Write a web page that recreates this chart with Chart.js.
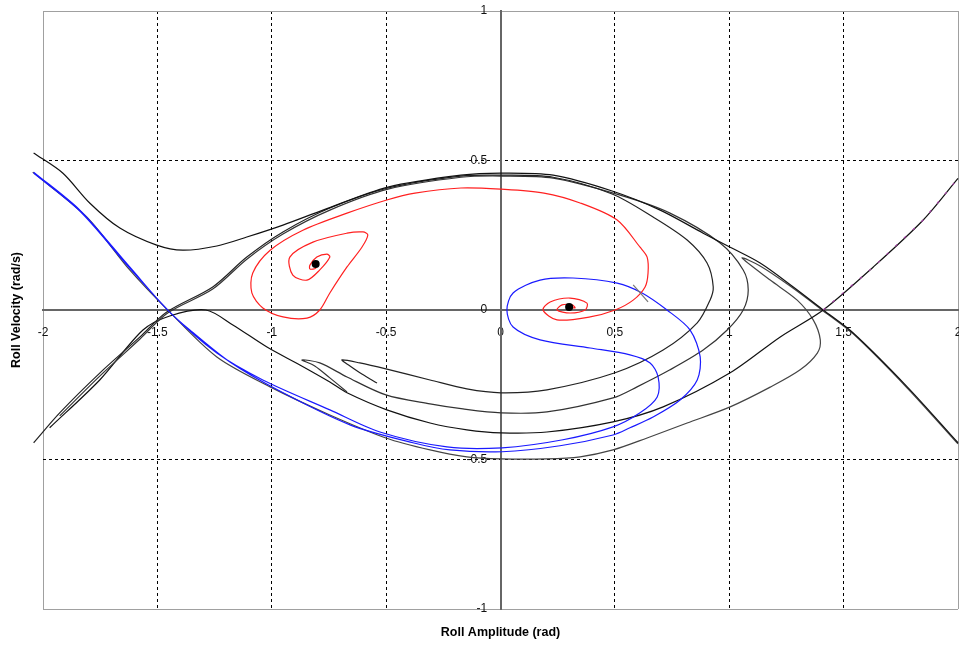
<!DOCTYPE html>
<html>
<head>
<meta charset="utf-8">
<title>Roll phase portrait</title>
<script src="https://cdn.jsdelivr.net/npm/chart.js@4/dist/chart.umd.min.js"></script>
<style>
  html, body { margin: 0; padding: 0; background: #fff; }
  #wrap { width: 959px; height: 646px; }
</style>
</head>
<body>
<div id="wrap"><canvas id="c" width="959" height="646"></canvas></div>
<script>
// Axis ticks and titles
const xTicks = [-2, -1.5, -1, -0.5, 0, 0.5, 1, 1.5, 2];
const yTicks = [-1, -0.5, 0, 0.5, 1];
const xTitle = 'Roll Amplitude (rad)';
const yTitle = 'Roll Velocity (rad/s)';

// Equilibrium points (foci)
const foci = [[-0.808, 0.154], [0.300, 0.010]];

// Trajectories, [roll amplitude, roll velocity]
const outerArc = [[-2.041,0.525],[-1.914,0.458],[-1.796,0.358],[-1.664,0.274],[-1.503,0.217],[-1.389,0.200],[-1.240,0.214],[-1.109,0.244],[-0.951,0.284],[-0.776,0.334],[-0.492,0.411],[-0.173,0.451],[0.002,0.458],[0.230,0.451],[0.488,0.398],[0.698,0.334],[0.886,0.257],[1.004,0.210],[1.135,0.157],[1.280,0.077],[1.411,0],[1.542,-0.077],[1.778,-0.257],[2.0,-0.444]];

const innerLoopA = [[-2.041,-0.444],[-1.927,-0.344],[-1.752,-0.211],[-1.576,-0.090],[-1.459,-0.007],[-1.258,0.077],[-1.109,0.177],[-0.951,0.261],[-0.746,0.341],[-0.492,0.408],[-0.173,0.448],[0.002,0.451],[0.230,0.444],[0.488,0.388],[0.667,0.311],[0.816,0.234],[0.903,0.157],[0.930,0.077],[0.916,0.033],[0.860,-0.043],[0.711,-0.134],[0.501,-0.210],[0.203,-0.267],[0.002,-0.277],[-0.147,-0.264],[-0.308,-0.234],[-0.501,-0.197],[-0.615,-0.177],[-0.693,-0.167],[-0.658,-0.187],[-0.606,-0.214],[-0.540,-0.244]];

const innerLoopB = [[-1.927,-0.354],[-1.752,-0.221],[-1.576,-0.097],[-1.455,-0.010],[-1.258,0.070],[-1.109,0.170],[-0.951,0.254],[-0.746,0.334],[-0.492,0.404],[-0.173,0.444],[0.002,0.448],[0.230,0.441],[0.523,0.384],[0.741,0.324],[0.960,0.224],[1.061,0.134],[1.083,0.067],[1.061,0],[0.991,-0.067],[0.886,-0.134],[0.741,-0.200],[0.597,-0.257],[0.492,-0.294],[0.203,-0.341],[0.002,-0.344],[-0.164,-0.331],[-0.308,-0.314],[-0.501,-0.284],[-0.671,-0.224],[-0.790,-0.177],[-0.868,-0.167],[-0.812,-0.187],[-0.746,-0.227],[-0.671,-0.274]];

const lowerPass = [[-1.971,-0.394],[-1.752,-0.234],[-1.563,-0.067],[-1.446,-0.020],[-1.288,0],[-1.170,-0.050],[-1.021,-0.124],[-0.877,-0.184],[-0.746,-0.241],[-0.671,-0.277],[-0.497,-0.334],[-0.308,-0.378],[-0.147,-0.401],[0.002,-0.411],[0.203,-0.408],[0.492,-0.374],[0.711,-0.324],[1.004,-0.210],[1.223,-0.090],[1.411,0],[1.630,0.144],[1.848,0.301],[2.0,0.440]];

const bottomTongue = [[-2.045,0.461],[-1.809,0.311],[-1.621,0.134],[-1.446,-0.007],[-1.240,-0.157],[-1.007,-0.257],[-0.746,-0.351],[-0.501,-0.428],[-0.308,-0.468],[-0.147,-0.491],[0.002,-0.498],[0.203,-0.498],[0.348,-0.491],[0.492,-0.468],[0.641,-0.428],[0.816,-0.378],[1.004,-0.324],[1.179,-0.258],[1.310,-0.200],[1.385,-0.144],[1.398,-0.100],[1.367,-0.033],[1.297,0.033],[1.179,0.100],[1.056,0.174],[1.135,0.147],[1.266,0.080],[1.411,-0.003],[1.542,-0.080],[1.778,-0.261],[2.0,-0.448]];

const bluePath = [[-2.041,0.461],[-1.839,0.334],[-1.621,0.144],[-1.446,-0.007],[-1.240,-0.144],[-1.039,-0.234],[-0.746,-0.334],[-0.527,-0.408],[-0.234,-0.458],[0.007,-0.461],[0.273,-0.434],[0.492,-0.391],[0.610,-0.344],[0.685,-0.291],[0.689,-0.224],[0.654,-0.177],[0.566,-0.150],[0.392,-0.127],[0.173,-0.100],[0.055,-0.057],[0.028,0],[0.055,0.057],[0.173,0.100],[0.317,0.107],[0.510,0.090],[0.619,0.057],[0.728,0],[0.829,-0.067],[0.873,-0.157],[0.860,-0.234],[0.785,-0.301],[0.667,-0.358],[0.566,-0.394],[0.492,-0.418],[0.260,-0.454],[0.007,-0.474],[-0.221,-0.468],[-0.383,-0.444],[-0.658,-0.384],[-0.965,-0.271],[-1.183,-0.174],[-1.358,-0.067],[-1.446,-0.007],[-1.621,0.140],[-1.839,0.331],[-2.041,0.458]];

const redPath = [[0.300,0.010],[0.326,0.007],[0.313,0.017],[0.269,0.017],[0.247,0],[0.304,-0.010],[0.370,0],[0.378,0.023],[0.304,0.040],[0.217,0.027],[0.186,0],[0.247,-0.033],[0.392,-0.023],[0.501,0],[0.580,0.033],[0.632,0.077],[0.645,0.124],[0.641,0.177],[0.610,0.210],[0.510,0.301],[0.348,0.358],[0.190,0.391],[0.002,0.404],[-0.173,0.408],[-0.374,0.391],[-0.497,0.368],[-0.671,0.324],[-0.864,0.267],[-1.007,0.200],[-1.083,0.124],[-1.087,0.057],[-1.039,0.007],[-0.951,-0.023],[-0.846,-0.027],[-0.790,0],[-0.746,0.057],[-0.671,0.144],[-0.606,0.210],[-0.580,0.251],[-0.601,0.261],[-0.671,0.257],[-0.820,0.227],[-0.921,0.177],[-0.908,0.117],[-0.846,0.100],[-0.790,0.134],[-0.746,0.177],[-0.759,0.187],[-0.803,0.177],[-0.833,0.150],[-0.833,0.137],[-0.807,0.140],[-0.807,0.154]];

const startMark = [[0.580,0.084],[0.645,0.027]];
const unstableBranch = [[1.411,0],[1.630,0.144],[1.848,0.301],[2.0,0.440]];

const toXY = arr => arr.map(([x, y]) => ({ x, y }));

function curve(data, color, width, extra) {
  return Object.assign({
    data: toXY(data),
    showLine: true,
    borderColor: color,
    borderWidth: width,
    pointRadius: 0,
    fill: false,
    tension: 0.3,
    clip: false
  }, extra || {});
}

const gridColor = edge => c => {
  const v = c.tick ? c.tick.value : null;
  if (v === 0) return 'rgba(0,0,0,0)';
  if (v !== null && Math.abs(v) === edge) return '#a0a0a0';
  return '#000';
};
const gridDash = edge => c => {
  const v = c.tick ? c.tick.value : 0;
  return (v === 0 || Math.abs(v) === edge) ? [] : [3, 3];
};
const noPad = s => { s.paddingLeft = 0; s.paddingRight = 0; s.paddingTop = 0; s.paddingBottom = 0; };
const tickFont = { family: '"Liberation Sans", Arial, sans-serif', size: 12 };

const axisTitles = {
  id: 'axisTitles',
  afterDraw(chart) {
    const { ctx, chartArea } = chart;
    ctx.save();
    ctx.fillStyle = '#000';
    ctx.font = 'bold 12.5px "Liberation Sans", Arial, sans-serif';
    ctx.textAlign = 'center';
    ctx.textBaseline = 'middle';
    ctx.fillText(xTitle, (chartArea.left + chartArea.right) / 2, 633);
    ctx.translate(17, (chartArea.top + chartArea.bottom) / 2);
    ctx.rotate(-Math.PI / 2);
    ctx.fillText(yTitle, 0, 0);
    ctx.restore();
  }
};

new Chart(document.getElementById('c'), {
  type: 'scatter',
  data: {
    datasets: [
      { data: toXY(foci), showLine: false, pointRadius: 4, pointBackgroundColor: '#000', pointBorderWidth: 0 },
      curve(startMark, '#777', 1.2, { tension: 0 }),
      curve(redPath, '#ff2020', 1.2),
      curve(bluePath, '#1a1aff', 1.2),
      curve(unstableBranch, '#a040a0', 1.2, { borderDash: [3, 9], tension: 0 }),
      curve(outerArc, '#111', 1.2),
      curve(innerLoopA, '#222', 1.2),
      curve(innerLoopB, '#333', 1.2),
      curve(lowerPass, '#111', 1.2),
      curve(bottomTongue, '#444', 1.2)
    ]
  },
  options: {
    responsive: false,
    animation: false,
    layout: { autoPadding: false, padding: { left: 43, right: 1, top: 11, bottom: 37 } },
    plugins: { legend: { display: false }, tooltip: { enabled: false } },
    scales: {
      x: {
        type: 'linear', min: -2, max: 2, position: { y: 0 },
        afterBuildTicks: s => { s.ticks = xTicks.map(v => ({ value: v })); },
        afterFit: noPad,
        grid: { drawTicks: false, color: gridColor(2), lineWidth: 1 },
        border: { display: true, color: '#666', width: 2, dash: gridDash(2) },
        ticks: { padding: 15, color: '#111', font: tickFont, autoSkip: false, maxRotation: 0, callback: v => String(v) }
      },
      y: {
        type: 'linear', min: -1, max: 1, position: { x: 0 },
        afterBuildTicks: s => { s.ticks = yTicks.map(v => ({ value: v })); },
        afterFit: noPad,
        grid: { drawTicks: false, color: gridColor(1), lineWidth: 1 },
        border: { display: true, color: '#666', width: 2, dash: gridDash(1) },
        // trailing spaces keep the labels clear of the centred axis line
        ticks: { color: '#111', font: tickFont, autoSkip: false, callback: v => String(v) + '    ' }
      }
    }
  },
  plugins: [axisTitles]
});
</script>
</body>
</html>
